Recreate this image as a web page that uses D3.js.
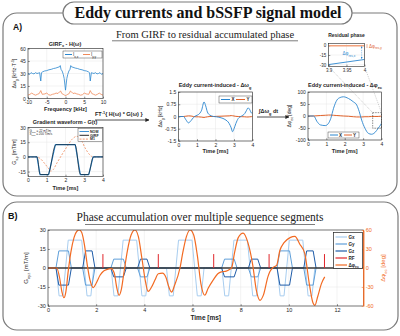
<!DOCTYPE html>
<html><head><meta charset="utf-8">
<script src="https://cdn.jsdelivr.net/npm/d3@7"></script>
<style>body{margin:0;background:#fff} text{font-family:"Liberation Sans",Arial,sans-serif} text.serif{font-family:"Liberation Serif","DejaVu Serif",serif}</style>
</head><body><svg id="c" width="400" height="336"></svg>
<script>
// ---------- DATA ----------
// GIRF (frequency response)
const girfF  = [-10,-9.6,-9.2,-8.8,-8.4,-8,-7.6,-7.2,-6.9,-6.6,-6.4,-6.1,-5.6,-5,-4.4,-3.8,-3.2,-2.6,-2,-1.6,-1.4,-1.2,-0.9,-0.6,-0.35,-0.15,0,0.15,0.35,0.6,0.9,1.2,1.4,1.6,2,2.6,3.2,3.8,4.4,5,5.6,6.1,6.4,6.6,6.9,7.2,7.6,8,8.4,8.8,9.2,9.6,10];
const girfXX = [30,29,31,30,29.5,31,30,30.5,31,21,31,32,33,33.5,34.5,35,36,36.5,37.5,38,39.5,35,33,29,24,16,10,16,24,29,33,35,39.5,38,37.5,36.5,36,35,34.5,33.5,33,32,31,21,31,30.5,30,31,29.5,30,31,29,30];
const girfF2 = [-10,-9.5,-9,-8.5,-8,-7.5,-7,-6.6,-6.2,-5.5,-5,-4.5,-4,-3.5,-3,-2.5,-2,-1.6,-1.3,-1,-0.6,-0.3,0,0.3,0.6,1,1.3,1.6,2,2.5,3,3.5,4,4.5,5,5.5,6.2,6.6,7,7.5,8,8.5,9,9.5,10];
const girfYY = [4,5,6.5,5,4,5,6,9.5,5,5.5,6.5,4.5,4,5,5.5,6.5,6,8,9,6,5,4.5,3,4.5,5,6,9,8,6,6.5,5.5,5,4,4.5,6.5,5.5,5,9.5,6,5,4,5,6.5,5,4];
// Gradient waveform (panel A)
const gradT    = [0,0.48,0.64,1.10,1.46,2.52,2.79,3.24,3.47,4];
const gradNom  = [0,0,-18,-18,12.5,12.5,-18,-18,0,0];
const gradGT   = [0,0.48,0.53,0.61,0.67,1.08,1.14,1.42,1.50,2.50,2.56,2.75,2.83,3.22,3.28,3.44,3.51,4];
const gradGirf = [0,0,-3,-16,-18,-18,-15,10.5,12.5,12.5,10,-16,-18,-18,-15,-1.5,0,0];
const m1T = [0,0.48,0.64,0.9,1.1,1.2,1.32,1.55,1.8,2.1,2.35,2.6,2.8,3.05,3.3,3.47,4];
const m1V = [0,0,-1.5,-7,-12,-14.5,-13.5,-6,2,11,18,21,18.5,9,2,0,0];
// Eddy current induced frequency offset
const dwT = [0,0.27,0.4,0.54,0.68,0.81,0.95,1.08,1.25,1.38,1.47,1.56,1.7,1.9,2.06,2.3,2.51,2.74,2.85,2.92,3.0,3.1,3.23,3.4,3.58,3.68,3.76,3.85,3.94,4.0];
const dwX = [0,0,-0.2,-0.39,-0.25,-0.06,0.05,0.12,0.39,0.89,0.65,0.28,0.08,0,-0.02,-0.08,-0.18,-0.43,-0.7,-0.93,-0.75,-0.43,-0.12,0.02,0.18,0.38,0.53,0.42,0.22,0.2];
const dwY = [0,0,0.02,0.04,0.03,0,-0.02,-0.02,-0.04,-0.06,-0.04,-0.02,0,0,0.01,0.02,0.03,0.04,0.06,0.05,0.03,0.01,0,-0.01,-0.02,-0.03,-0.03,-0.02,-0.01,0];
// Eddy current induced phase
const dpT = [0,0.31,0.49,0.67,0.94,1.12,1.24,1.39,1.57,1.75,1.93,2.2,2.47,2.65,2.79,2.92,3.1,3.28,3.46,3.64,3.82,3.95,4.0];
const dpX = [0,0,-23,-37,-40,-30,-10,32,66,77,80,73,59,46,18,-17,-51,-72,-76,-69,-51,-37,-30];
const dpY = [0,0,1,2,3,4,4,3,2,1,0,-1,-3,-4,-4,-4,-3,-3,-2,-2,-2,-1,-1];
// Residual phase inset
const resT = [3.9,4.0];
const resX = [-30,-22];
const resY = [-0.6,-0.6];
// Panel B sequence
const trStart = [0,2.28,4.58,6.88,9.18];
const rfTimes = [2.28,4.58,6.88,9.18,11.48];
const rfAmp = 11;
const gxOffT = [0,0.34,0.46,0.62,0.84,1.40,1.62,1.78,1.90,2.28];
const gxOffV = [0,0,-22,-22,22,22,-22,-22,0,0];
const pePreT = [0.33,0.45,0.85,0.97];
const peRewT = [1.44,1.56,1.83,1.95];
const peShape = [0,1,1,0];
const peAmp = [13.5,7,0,7,13.5];
const phiT = [0,0.36,0.48,0.58,0.66,0.74,0.84,0.95,1.08,1.2,1.3,1.4,1.52,1.63,1.75,1.88,2.0,2.16,2.3,2.43,2.62,
  2.75,2.85,2.95,3.05,3.15,3.3,3.45,3.61,3.75,3.9,4.05,4.16,4.3,4.44,4.58,4.75,
  4.9,5.0,5.13,5.25,5.48,5.6,5.75,5.9,6.05,6.2,6.35,6.51,6.65,6.86,7.05,7.2,7.4,
  7.55,7.62,7.75,7.9,8.1,8.3,8.5,8.65,8.8,8.95,9.13,9.21,9.35,9.49,
  9.63,9.8,10.05,10.25,10.45,10.66,10.85,11.0,11.08,11.2,11.35,11.49];
const phiV = [0,0,-15,-38,-47,-38,-5,25,48,58,60,56,35,5,-20,-31,-24,-11.5,-5,-2.6,-1,
  -8,-30,-43,-33,-8,28,52,60,50,15,-22,-37,-30,-19,-9,-8,
  -15,-28,-38,-28,0,25,50,60,52,20,-25,-43,-32,-19,-9,-6,-5,
  -2,0,25,48,55,40,5,-35,-51,-42,-14,-6,1,4,
  28,40,48,50,38,23,-25,-55,-59,-45,-25,-14];

// ---------- DRAWING ----------
const svg = d3.select("#c");
const defs = svg.append("defs");
defs.append("marker").attr("id","arr").attr("viewBox","0 0 10 10").attr("refX",9).attr("refY",5)
  .attr("markerWidth",5).attr("markerHeight",5).attr("orient","auto")
  .append("path").attr("d","M0,0L10,5L0,10z").attr("fill","#222");
defs.append("marker").attr("id","arrb").attr("viewBox","0 0 10 10").attr("refX",9).attr("refY",5)
  .attr("markerWidth",4).attr("markerHeight",4).attr("orient","auto-start-reverse")
  .append("path").attr("d","M0,0L10,5L0,10z").attr("fill","#2a86cf");

const BLUE="#2a86cf", ORANGE="#e0622a", AX="#262626";
let clipN=0;
function zip(a,b){return a.map((v,i)=>[v,b[i]]);}
function rtext(parent,x,y,parts,size,attrs){
  const t=parent.append("text").attr("x",x).attr("y",y).attr("font-size",size);
  if(attrs) Object.entries(attrs).forEach(([k,v])=>t.attr(k,v));
  let shift=0;
  parts.forEach(p=>{
    const [s,k]=typeof p==="string"?[p,"n"]:p;
    const tgt=k==="sub"?size*0.35:k==="sup"?-size*0.4:0;
    t.append("tspan").attr("dy",tgt-shift).attr("font-size",k==="n"?size:size*0.7).text(s);
    shift=tgt;
  });
  return t;
}
function makePlot(o){
  const g=svg.append("g");
  const x=d3.scaleLinear().domain(o.xd).range([o.l,o.r]);
  const y=d3.scaleLinear().domain(o.yd).range([o.b,o.t]);
  const id="clip"+(clipN++);
  defs.append("clipPath").attr("id",id).append("rect").attr("x",o.l).attr("y",o.t).attr("width",o.r-o.l).attr("height",o.b-o.t);
  g.append("rect").attr("x",o.l).attr("y",o.t).attr("width",o.r-o.l).attr("height",o.b-o.t).attr("fill","#fff");
  const grid=g.append("g").attr("stroke","#e6e6e6").attr("stroke-width",0.5);
  grid.selectAll("line.a").data(o.xt).join("line").attr("x1",d=>x(d)).attr("x2",d=>x(d)).attr("y1",o.t).attr("y2",o.b);
  grid.selectAll("line.b").data(o.yt).join("line").attr("y1",d=>y(d)).attr("y2",d=>y(d)).attr("x1",o.l).attr("x2",o.r);
  const fs=o.fs||5;
  const ax=g.append("g").attr("transform",`translate(0,${o.b})`)
    .call(d3.axisBottom(x).tickValues(o.xt).tickSizeInner(-1.8).tickSizeOuter(0).tickPadding(2.2).tickFormat(d=>String(d)));
  const ay=g.append("g").attr("transform",`translate(${o.l},0)`)
    .call(d3.axisLeft(y).tickValues(o.yt).tickSizeInner(-1.8).tickSizeOuter(0).tickPadding(2.2).tickFormat(d=>String(d)));
  [ax,ay].forEach(a=>{a.select(".domain").remove();
    a.selectAll("line").attr("stroke",AX).attr("stroke-width",0.5);
    a.selectAll("text").attr("font-size",fs).attr("fill",AX);});
  const plot=g.append("g").attr("clip-path",`url(#${id})`);
  g.append("rect").attr("x",o.l).attr("y",o.t).attr("width",o.r-o.l).attr("height",o.b-o.t)
    .attr("fill","none").attr("stroke",AX).attr("stroke-width",0.6);
  return {g,x,y,plot,o};
}
function drawLine(P,data,color,w,curve,dash){
  const ln=d3.line().x(d=>P.x(d[0])).y(d=>P.y(d[1])).curve(curve||d3.curveLinear);
  const p=P.plot.append("path").datum(data).attr("d",ln).attr("fill","none").attr("stroke",color).attr("stroke-width",w).attr("stroke-linejoin","round");
  if(dash) p.attr("stroke-dasharray",dash);
  return p;
}
function xlabel(P,txt,yy,size){
  P.g.append("text").attr("x",(P.o.l+P.o.r)/2).attr("y",yy).attr("text-anchor","middle").attr("font-size",size||5.5).attr("font-weight","bold").attr("fill",AX).text(txt);
}

// ---- frames ----
svg.append("rect").attr("x",3).attr("y",13).attr("width",394).attr("height",183).attr("rx",14)
  .attr("fill","none").attr("stroke","#7a7a7a").attr("stroke-width",1.2);
svg.append("rect").attr("x",3).attr("y",202).attr("width",395).attr("height",128).attr("rx",14)
  .attr("fill","none").attr("stroke","#7a7a7a").attr("stroke-width",1.2);
svg.append("rect").attr("x",63).attr("y",2).attr("width",289).attr("height",22).attr("rx",11)
  .attr("fill","#fff").attr("stroke","#7a7a7a").attr("stroke-width",1.2);
svg.append("text").attr("class","serif").attr("x",208).attr("y",18).attr("text-anchor","middle").attr("font-size",16).attr("font-weight","bold")
  .attr("fill","#111").text("Eddy currents and bSSFP signal model");
svg.append("text").attr("x",13).attr("y",30).attr("font-size",8.5).attr("font-weight","bold").attr("fill","#111").text("A)");
svg.append("text").attr("x",8).attr("y",219).attr("font-size",9).attr("font-weight","bold").attr("fill","#111").text("B)");
svg.append("text").attr("class","serif").attr("x",205).attr("y",38).attr("text-anchor","middle").attr("font-size",10.5)
  .attr("fill","#222").text("From GIRF to residual accumulated phase");
svg.append("line").attr("x1",112).attr("x2",298).attr("y1",40.8).attr("y2",40.8).attr("stroke","#444").attr("stroke-width",0.7);
svg.append("text").attr("class","serif").attr("x",200).attr("y",221).attr("text-anchor","middle").attr("font-size",11.5)
  .attr("fill","#222").text("Phase accumulation over multiple sequence segments");
svg.append("line").attr("x1",85).attr("x2",315).attr("y1",224.5).attr("y2",224.5).attr("stroke","#444").attr("stroke-width",0.7);

// ---- GIRF ----
const P1=makePlot({l:28,r:103,t:48.5,b:98.5,xd:[-10,10],yd:[0,60],xt:[-10,-5,0,5,10],yt:[0,15,30,45,60]});
drawLine(P1,zip(girfF2,girfYY),"#f08a5a",0.8);
drawLine(P1,zip(girfF,girfXX),BLUE,0.8);
rtext(P1.g,65,45.5,["GIRF",["x","sub"]," - H(\u03c9)"],5.5,{"text-anchor":"middle","font-weight":"bold",fill:AX});
xlabel(P1,"Frequency [kHz]",111);
rtext(P1.g,0,0,["\u0394\u03c9",["g","sub"]," [kHz\u00b7T",["-1","sup"],"]"],5,{"text-anchor":"middle",fill:AX,transform:"translate(16,73.5) rotate(-90)"});
{ const lg=P1.g.append("g");
  lg.append("rect").attr("x",63).attr("y",51).attr("width",39).attr("height",7).attr("fill","#fff").attr("stroke",AX).attr("stroke-width",0.4);
  lg.append("line").attr("x1",65).attr("x2",72).attr("y1",54.5).attr("y2",54.5).attr("stroke",BLUE).attr("stroke-width",1);
  rtext(lg,73,56,["I",["x,x","sub"]],4.5,{fill:AX});
  lg.append("line").attr("x1",83).attr("x2",90).attr("y1",54.5).attr("y2",54.5).attr("stroke","#f08a5a").attr("stroke-width",1);
  rtext(lg,91,56,["I",["y,y","sub"]],4.5,{fill:AX});
}

// ---- Gradient waveform ----
const P2=makePlot({l:28,r:103,t:127.5,b:176.5,xd:[0,4],yd:[-20,30],xt:[0,1,2,3,4],yt:[-15,0,15,30]});
drawLine(P2,zip(m1T,m1V),"#f08a5a",0.8,d3.curveMonotoneX,"2,1.5");
drawLine(P2,zip(gradT,gradNom),BLUE,1.2);
drawLine(P2,zip(gradGT,gradGirf),"#111",0.6,d3.curveMonotoneX);
rtext(P2.g,65,124,["Gradient waveform - G(t)"],5.5,{"text-anchor":"middle","font-weight":"bold",fill:AX});
xlabel(P2,"Time [ms]",190);
rtext(P2.g,0,0,["G",["x,p","sub"]," [mT/m]"],5,{"text-anchor":"middle",fill:AX,transform:"translate(16,152) rotate(-90)"});
rtext(P2.g,29.5,131.5,["G",["max","sub"]," = 22 mT/m"],3,{fill:AX});
rtext(P2.g,29.5,135,["S",["max","sub"]," = 200 T/m/s"],3,{fill:AX});
{ const lg=P2.g.append("g");
  lg.append("rect").attr("x",78).attr("y",128.5).attr("width",24.5).attr("height",13).attr("fill","#fff").attr("stroke",AX).attr("stroke-width",0.4);
  const items=[["NOM",BLUE,null],["GIRF","#111",null],["M1","#f08a5a","2,1.2"]];
  items.forEach((it,i)=>{const yy=131.5+i*3.8;
    const l=lg.append("line").attr("x1",79.5).attr("x2",89).attr("y1",yy).attr("y2",yy).attr("stroke",it[1]).attr("stroke-width",0.9);
    if(it[2]) l.attr("stroke-dasharray",it[2]);
    lg.append("text").attr("x",90).attr("y",yy+1.3).attr("font-size",3.6).attr("font-weight","bold").attr("fill",AX).text(it[0]);});
}

// ---- arrows between plots ----
rtext(svg,95,116,["FT",["-1","sup"],"{ H(\u03c9) * G(\u03c9) }"],5.5,{"font-weight":"bold",fill:"#222"});
svg.append("line").attr("x1",95).attr("x2",149).attr("y1",120).attr("y2",120).attr("stroke","#222").attr("stroke-width",0.8).attr("marker-end","url(#arr)");
rtext(svg,259,113,["\u222b\u0394\u03c9",["g","sub"]," dt"],5.5,{"font-weight":"bold",fill:"#222"});
svg.append("line").attr("x1",257).attr("x2",289).attr("y1",117).attr("y2",117).attr("stroke","#222").attr("stroke-width",0.8).attr("marker-end","url(#arr)");

// ---- Eddy current induced dw ----
const P3=makePlot({l:178.5,r:252.5,t:92,b:141,xd:[0,4],yd:[-1.5,1.5],xt:[0,1,2,3,4],yt:[-1.5,-0.75,0,0.75,1.5]});
drawLine(P3,zip(dwT,dwY),ORANGE,1);
drawLine(P3,zip(dwT,dwX),BLUE,0.9,d3.curveMonotoneX);
rtext(P3.g,215,87,["Eddy current-induced - \u0394\u03c9",["g","sub"]],5.5,{"text-anchor":"middle","font-weight":"bold",fill:AX});
xlabel(P3,"Time [ms]",153);
rtext(P3.g,0,0,["\u0394\u03c9",["g","sub"]," [kHz]"],5,{"text-anchor":"middle",fill:AX,transform:"translate(162,116.5) rotate(-90)"});
{ const lg=P3.g.append("g");
  lg.append("rect").attr("x",219).attr("y",96).attr("width",33).attr("height",7).attr("fill","#fff").attr("stroke",AX).attr("stroke-width",0.4);
  lg.append("line").attr("x1",221).attr("x2",230).attr("y1",99.5).attr("y2",99.5).attr("stroke",BLUE).attr("stroke-width",1);
  lg.append("text").attr("x",231.5).attr("y",101.3).attr("font-size",4.5).attr("font-weight","bold").attr("fill",AX).text("X");
  lg.append("line").attr("x1",236).attr("x2",245).attr("y1",99.5).attr("y2",99.5).attr("stroke",ORANGE).attr("stroke-width",1);
  lg.append("text").attr("x",246.5).attr("y",101.3).attr("font-size",4.5).attr("font-weight","bold").attr("fill",AX).text("Y");
}

// ---- Eddy current induced phase ----
const P4=makePlot({l:308,r:381.5,t:92,b:140,xd:[0,4],yd:[-100,100],xt:[0,1,2,3,4],yt:[-100,-50,0,50,100]});
drawLine(P4,zip(dpT,dpY),ORANGE,1,d3.curveMonotoneX);
drawLine(P4,zip(dpT,dpX),BLUE,0.9,d3.curveMonotoneX);
rtext(P4.g,345,87,["Eddy current-induced - \u0394\u03c6",["ec","sub"]],5.5,{"text-anchor":"middle","font-weight":"bold",fill:AX});
xlabel(P4,"Time [ms]",153);
rtext(P4.g,0,0,["\u0394\u03c6",["ec","sub"]," [deg]"],5,{"text-anchor":"middle",fill:AX,transform:"translate(291,116) rotate(-90)"});
{ const lg=P4.g.append("g");
  lg.append("rect").attr("x",328).attr("y",132).attr("width",31).attr("height",6).attr("fill","#fff").attr("stroke",AX).attr("stroke-width",0.4);
  lg.append("line").attr("x1",330).attr("x2",338).attr("y1",135).attr("y2",135).attr("stroke",BLUE).attr("stroke-width",1);
  lg.append("text").attr("x",339).attr("y",136.7).attr("font-size",4.5).attr("font-weight","bold").attr("fill",AX).text("X");
  lg.append("line").attr("x1",344).attr("x2",352).attr("y1",135).attr("y2",135).attr("stroke",ORANGE).attr("stroke-width",1);
  lg.append("text").attr("x",353).attr("y",136.7).attr("font-size",4.5).attr("font-weight","bold").attr("fill",AX).text("Y");
  P4.g.append("rect").attr("x",P4.x(3.52)).attr("y",P4.y(14)).attr("width",P4.x(4)-P4.x(3.52)).attr("height",P4.y(-51)-P4.y(14))
    .attr("fill","none").attr("stroke","#222").attr("stroke-width",0.5).attr("stroke-dasharray","1.5,1");
}

// ---- Residual phase inset ----
const P5=makePlot({l:328.5,r:364.5,t:43.5,b:66.5,xd:[3.9,4],yd:[-33,3],xt:[3.9,3.95,4],yt:[-30,-15,0],fs:4.5});
drawLine(P5,zip(resT,resY),"#f2a27c",1.6);
drawLine(P5,zip(resT,resX),BLUE,0.9);
P5.plot.append("line").attr("x1",P5.x(3.992)).attr("x2",P5.x(3.992)).attr("y1",P5.y(-1.5)).attr("y2",P5.y(-21))
  .attr("stroke",BLUE).attr("stroke-width",0.5).attr("stroke-dasharray","1,0.8").attr("marker-start","url(#arrb)").attr("marker-end","url(#arrb)");
rtext(P5.g,346.5,37,["Residual phase"],5,{"text-anchor":"middle","font-weight":"bold",fill:AX});
rtext(P5.g,342.5,55,["\u0394\u03c6",["res,x","sub"]],4.5,{fill:BLUE});
svg.append("line").attr("x1",367).attr("x2",367).attr("y1",44).attr("y2",48).attr("stroke",ORANGE).attr("stroke-width",0.5);
rtext(svg,369,47.5,["\u0394\u03c6",["res,y","sub"]],4.5,{fill:ORANGE});
svg.append("line").attr("x1",P5.o.l).attr("y1",P5.o.b).attr("x2",P4.x(3.52)).attr("y2",P4.y(14)).attr("stroke","#999").attr("stroke-width",0.5).attr("stroke-dasharray","1,1");
svg.append("line").attr("x1",P5.o.r).attr("y1",P5.o.b).attr("x2",P4.x(4)).attr("y2",P4.y(14)).attr("stroke","#999").attr("stroke-width",0.5).attr("stroke-dasharray","1,1");

// ---- Panel B ----
const PB=makePlot({l:48,r:363.5,t:230,b:306,xd:[0,13.1],yd:[-30,30],xt:[0,2,4,6,8,10,12],yt:[-30,-15,0,15,30],fs:5.5});
const yR=d3.scaleLinear().domain([-60,60]).range([306,230]);
const GX="#a8cdef", GY="#5f9fd9", GZ="#1f5ca8", RF="#e0262b", PHI="#f26a22";
const gxData=[];
trStart.forEach(ts=>gxOffT.forEach((t,i)=>gxData.push([ts+t,gxOffV[i]])));
drawLine(PB,gxData,GX,1);
const gyData=[[0,0]], gzData=[[0,0]];
trStart.forEach((ts,k)=>{
  pePreT.forEach((t,i)=>{gyData.push([ts+t,peShape[i]*peAmp[k]]);gzData.push([ts+t,-peShape[i]*peAmp[k]]);});
  peRewT.forEach((t,i)=>{gyData.push([ts+t,-peShape[i]*peAmp[k]]);gzData.push([ts+t,peShape[i]*peAmp[k]]);});
});
drawLine(PB,gyData,GY,1);
drawLine(PB,gzData,GZ,1);
PB.plot.append("line").attr("x1",PB.x(0)).attr("x2",PB.x(13.1)).attr("y1",PB.y(0)).attr("y2",PB.y(0)).attr("stroke","#3a3a3a").attr("stroke-width",1.3);
PB.plot.selectAll("line.rf").data(rfTimes).join("line").attr("x1",d=>PB.x(d)).attr("x2",d=>PB.x(d))
  .attr("y1",PB.y(0)).attr("y2",PB.y(rfAmp)).attr("stroke",RF).attr("stroke-width",1);
PB.plot.append("path").datum(zip(phiT,phiV)).attr("fill","none").attr("stroke",PHI).attr("stroke-width",1.2)
  .attr("d",d3.line().x(d=>PB.x(d[0])).y(d=>yR(d[1])).curve(d3.curveMonotoneX));
const ar=PB.g.append("g").attr("transform","translate(363.5,0)")
  .call(d3.axisRight(yR).tickValues([-60,-30,0,30,60]).tickSizeInner(-1.8).tickSizeOuter(0).tickPadding(2.2).tickFormat(d=>String(d)));
ar.select(".domain").attr("stroke",PHI).attr("stroke-width",0.8);
ar.selectAll("line").attr("stroke",PHI).attr("stroke-width",0.5);
ar.selectAll("text").attr("font-size",5.5).attr("fill",PHI);
PB.g.append("line").attr("x1",363.5).attr("x2",363.5).attr("y1",230).attr("y2",306).attr("stroke",PHI).attr("stroke-width",0.8);
xlabel(PB,"Time [ms]",320,6.5);
rtext(PB.g,0,0,["G",["xyz","sub"]," [mT/m]"],6,{"text-anchor":"middle",fill:AX,transform:"translate(28,268) rotate(-90)"});
rtext(PB.g,0,0,["\u0394\u03c6",["ec","sub"]," [deg]"],6,{"text-anchor":"middle",fill:PHI,transform:"translate(385,268) rotate(-90)"});
{ const lg=PB.g.append("g");
  lg.append("rect").attr("x",333.5).attr("y",232.5).attr("width",29).attr("height",36).attr("fill","#fff").attr("stroke","#222").attr("stroke-width",0.7);
  const items=[["Gx",GX],["Gy",GY],["Gz",GZ],["RF",RF]];
  items.forEach((it,i)=>{const yy=237+i*7;
    lg.append("line").attr("x1",335.5).attr("x2",347).attr("y1",yy).attr("y2",yy).attr("stroke",it[1]).attr("stroke-width",1.2);
    lg.append("text").attr("x",348.5).attr("y",yy+1.6).attr("font-size",4.6).attr("font-weight","bold").attr("fill",AX).text(it[0]);});
  lg.append("line").attr("x1",335.5).attr("x2",347).attr("y1",265).attr("y2",265).attr("stroke",PHI).attr("stroke-width",1.2);
  rtext(lg,348.5,266.6,["\u0394\u03c6",["ec","sub"]],4.6,{"font-weight":"bold",fill:AX});
}
</script></body></html>
